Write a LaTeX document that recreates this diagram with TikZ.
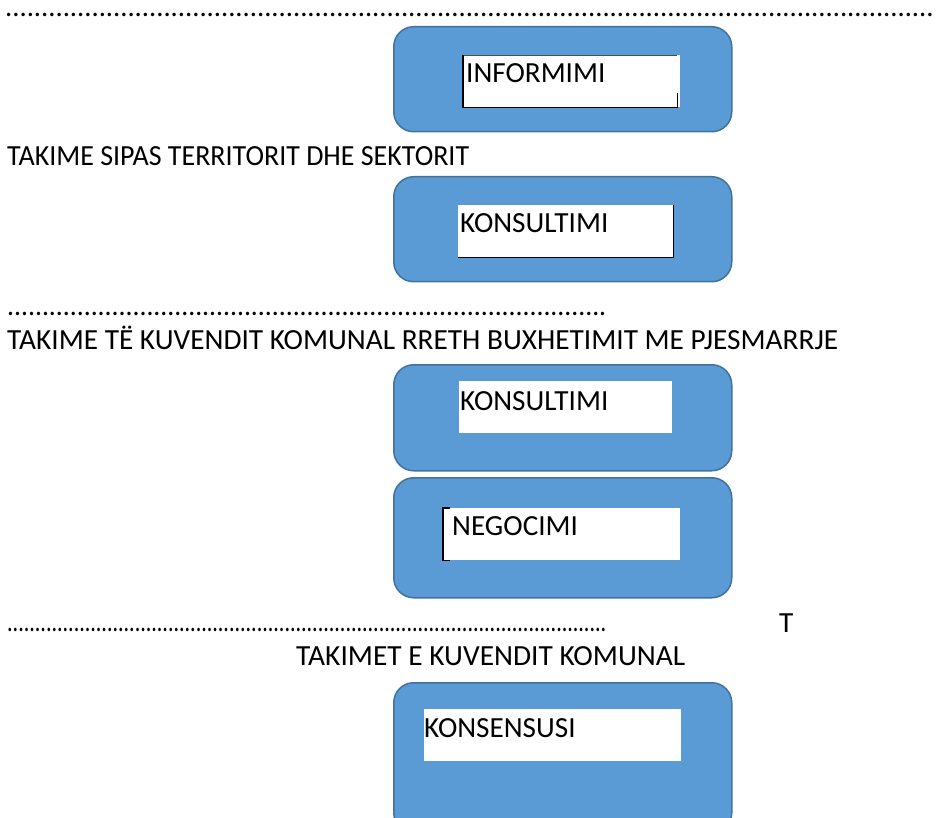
\documentclass[tikz,border=0pt]{standalone}
\usepackage{fontspec}
\setmainfont{Carlito}
\usepackage{graphicx}
\ExplSyntaxOn
\cs_new:Npn \mydots #1 { \prg_replicate:nn {#1} {.} }
\ExplSyntaxOff
\definecolor{boxfill}{HTML}{5B9BD5}
\definecolor{boxline}{HTML}{41719C}
\begin{document}
\begin{tikzpicture}[x=1pt,y=1pt,
  font=\fontsize{29.2}{35}\selectfont,
  bluebox/.style={draw=boxline, line width=1.5pt, fill=boxfill, rounded corners=20pt,
    minimum width=338pt, anchor=north west, inner sep=0pt},
  whitebox/.style={fill=white, draw=none, anchor=north west, inner sep=0pt, minimum height=52pt},
  lbl/.style={anchor=base west, inner sep=0pt},
  edge/.style={line width=1.5pt, black}]
\useasboundingbox (0,0) rectangle (937,-818);
\clip (0,0) rectangle (937,-818);

% blue boxes
\node[bluebox, minimum height=105pt] (b1) at (393,-26) {};
\node[bluebox, minimum height=105pt] (b2) at (393,-176) {};
\node[bluebox, minimum height=106pt] (b3) at (393,-364) {};
\node[bluebox, minimum height=120pt] (b4) at (393,-477) {};
\node[bluebox, minimum height=150pt] (b5) at (393,-682) {};

% white boxes
\node[whitebox, minimum width=217pt] (w1) at (463,-55) {};
\node[whitebox, minimum width=215pt] (w2) at (458,-205) {};
\node[whitebox, minimum width=213pt] (w3) at (459,-381) {};
\node[whitebox, minimum width=237pt] (w4) at (443,-508) {};
\node[whitebox, minimum width=257pt] (w5) at (424,-709) {};

% partial black borders
\draw[line width=0.6pt, black!70] (w1.north west) -- ([xshift=-3pt]w1.north east);
\draw[edge] (w1.north west) -- (w1.south west) -- ([xshift=-3pt]w1.south east) -- ++(0,14);
\draw[edge] (w2.north east) -- (w2.south east) -- (w2.south west);
\draw[edge] ([xshift=7pt]w4.north west) -- (w4.north west) -- (w4.south west) -- ++(7,0);

% labels in boxes
\node[lbl] (l1) at (466,-83) {INFORMIMI};
\node[lbl] (l2) at (460,-233) {KONSULTIMI};
\node[lbl] (l3) at (460,-410) {KONSULTIMI};
\node[lbl] (l4) at (452,-535) {NEGOCIMI};
\node[lbl] (l5) at (424,-737) {KONSENSUSI};

% free text
\node[lbl] (d1) at (5,-17) {\resizebox{930pt}{\height}{\mydots{129}}};
\node[lbl] (t1) at (7,-166) {\resizebox{462pt}{\height}{TAKIME SIPAS TERRITORIT DHE SEKTORIT}};
\node[lbl] (d2) at (7,-316) {\resizebox{600pt}{\height}{\mydots{86}}};
\node[lbl] (t2) at (7,-349) {\resizebox{831pt}{\height}{TAKIME TË KUVENDIT KOMUNAL RRETH BUXHETIMIT ME PJESMARRJE}};
\node[lbl] (d3) at (7,-631) {\resizebox{600pt}{\height}{\mydots{108}}};
\node[lbl] (t3) at (779,-632) {T};
\node[lbl] (t4) at (296,-665) {\resizebox{389pt}{\height}{TAKIMET E KUVENDIT KOMUNAL}};
\end{tikzpicture}
\end{document}
